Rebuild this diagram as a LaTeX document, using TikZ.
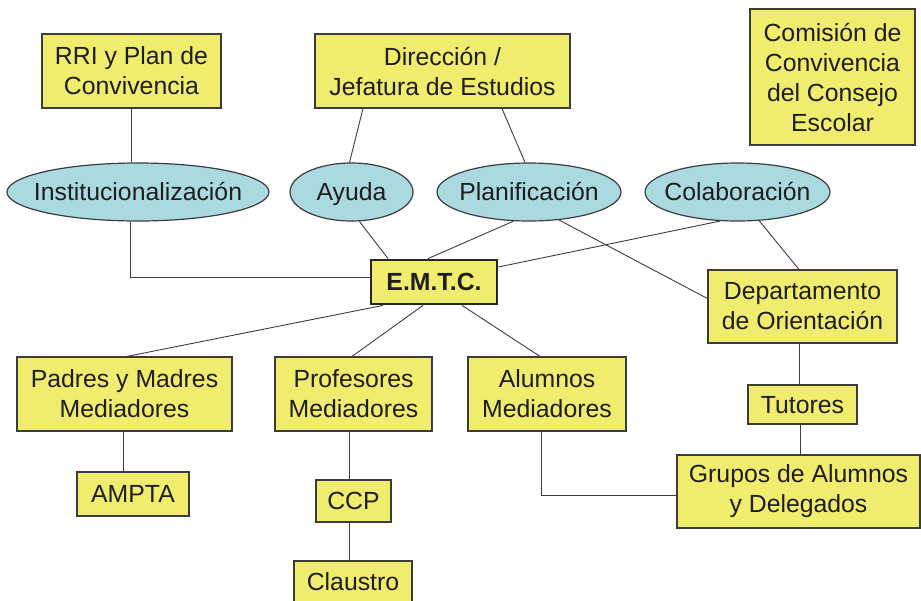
\documentclass[tikz,border=0pt]{standalone}
\usepackage{fontspec}
\setmainfont{Liberation Sans}
\usetikzlibrary{shapes.geometric,calc}
\definecolor{boxy}{RGB}{240,236,110}
\definecolor{ellb}{RGB}{170,218,224}
\definecolor{edgec}{RGB}{60,60,60}
\definecolor{txt}{RGB}{30,30,30}
\begin{document}
\begin{tikzpicture}[x=1pt,y=-1pt,
  box/.style={draw=edgec, line width=1.2pt, fill=boxy, inner sep=0pt, align=center,
    text=txt, font=\fontsize{24.8}{30}\selectfont},
  onebox/.style={box, text height=17.8pt, text depth=0pt},
  oval/.style={ellipse, draw=edgec, line width=1.2pt, fill=ellb, inner sep=0pt,
    text=txt, font=\fontsize{24.8}{30}\selectfont, text height=17.8pt, text depth=0pt, text width=0pt},
  conn/.style={draw=edgec, line width=0.9pt}]
\useasboundingbox (0,0) rectangle (921,600);
% boxes
\node[box, minimum width=179pt, minimum height=74pt] (rri) at (131.5,71) {RRI y Plan de\\Convivencia};
\node[box, minimum width=255pt, minimum height=74pt] (dir) at (442.5,71) {Dirección /\\Jefatura de Estudios};
\node[box, minimum width=165pt, minimum height=136pt] (com) at (832.5,77) {Comisión de\\Convivencia\\del Consejo\\Escolar};
% ellipses
\node[oval, minimum width=262pt, minimum height=58pt] (ins) at (138,192) {\makebox[0pt]{Institucionalización}};
\node[oval, minimum width=123pt, minimum height=58pt] (ayu) at (351.5,192) {\makebox[0pt]{Ayuda}};
\node[oval, minimum width=184pt, minimum height=58pt] (pla) at (529,192) {\makebox[0pt]{Planificación}};
\node[oval, minimum width=185pt, minimum height=58pt] (col) at (737.5,192) {\makebox[0pt]{Colaboración}};
% centre
\node[onebox, line width=2.8pt, draw=black!85, minimum width=126pt, minimum height=44pt, font=\fontsize{24.8}{30}\selectfont\bfseries] (emtc) at (434,282) {E.M.T.C.};
\node[box, minimum width=189pt, minimum height=73pt] (dep) at (802.5,306.5) {Departamento\\de Orientación};
% lower row
\node[box, minimum width=215pt, minimum height=74pt] (pad) at (124.5,394) {Padres y Madres\\Mediadores};
\node[box, minimum width=157pt, minimum height=74pt] (pro) at (353.5,394) {Profesores\\Mediadores};
\node[box, minimum width=158pt, minimum height=74pt] (alu) at (547,394) {Alumnos\\Mediadores};
\node[onebox, minimum width=109pt, minimum height=39pt] (tut) at (802.5,404.5) {Tutores};
\node[box, minimum width=243pt, minimum height=73pt] (gru) at (798.5,491.5) {Grupos de Alumnos\\y Delegados};
\node[onebox, minimum width=112pt, minimum height=44pt] (amp) at (133,494) {AMPTA};
\node[onebox, minimum width=75pt, minimum height=42pt] (ccp) at (353.5,501) {CCP};
\node[onebox, minimum width=118pt, minimum height=42pt] (cla) at (353,582) {Claustro};
% connectors
\draw[conn] (rri.south) -- (rri.south |- ins.north);
\draw[conn] ([xshift=-8pt]ins.south) |- ([yshift=5pt]emtc.west);
\draw[conn] ([xshift=-79.5pt]dir.south) -- ([xshift=-2pt]ayu.north);
\draw[conn] ([xshift=59.5pt]dir.south) -- ([xshift=-4pt]pla.north);
\draw[conn] (ayu.-75) -- ([xshift=-46pt]emtc.north);
\draw[conn] (pla.-118) -- ([xshift=-6pt]emtc.north);
\draw[conn] (pla.-43) -- ([yshift=8pt]dep.west);
\draw[conn] (col.-121) -- ([yshift=15pt]emtc.east);
\draw[conn] (col.-53) -- ([xshift=-3.5pt]dep.north);
\draw[conn] ([xshift=-51pt]emtc.south) -- ([xshift=2.5pt]pad.north);
\draw[conn] ([xshift=-11pt]emtc.south) -- ([xshift=-1.5pt]pro.north);
\draw[conn] ([xshift=28pt]emtc.south) -- ([xshift=-7pt]alu.north);
\draw[conn] ([xshift=-3.5pt]dep.south) -- ([xshift=-3.5pt]tut.north);
\draw[conn] ([xshift=-2.5pt]tut.south) -- ([xshift=1.5pt]gru.north);
\draw[conn] ([xshift=-6pt]alu.south) |- ([yshift=-3.5pt]gru.west);
\draw[conn] ([xshift=-1.5pt]pad.south) -- ([xshift=-10pt]amp.north);
\draw[conn] ([xshift=-4.5pt]pro.south) -- ([xshift=-4.5pt]ccp.north);
\draw[conn] ([xshift=-4.5pt]ccp.south) -- ([xshift=-4pt]cla.north);
\end{tikzpicture}
\end{document}
